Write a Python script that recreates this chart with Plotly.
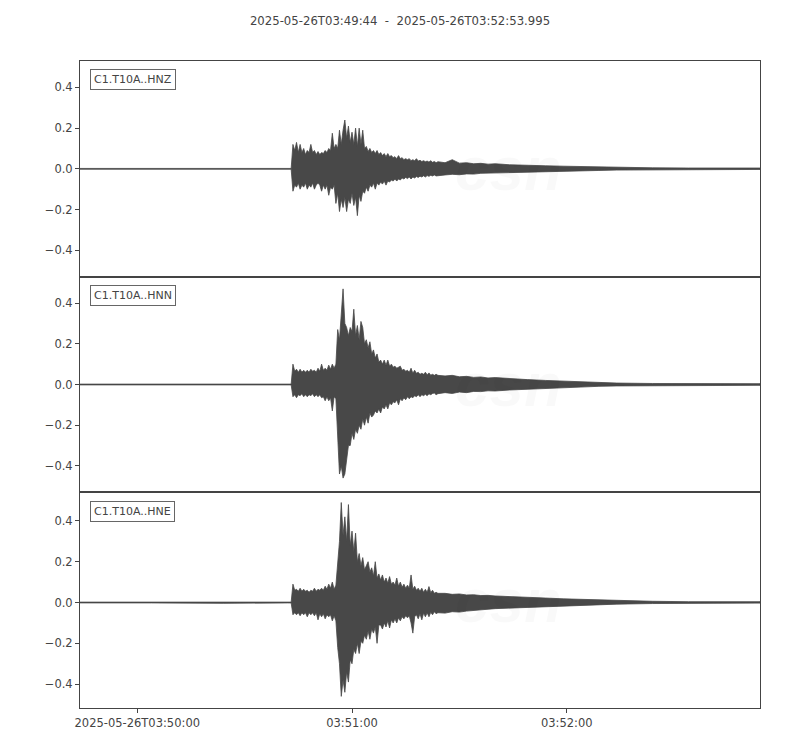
import plotly.graph_objects as go
from plotly.subplots import make_subplots
import pandas as pd

# record window
t_start = "2025-05-26T03:49:44"
t_end = "2025-05-26T03:52:53.995"

channels = ["C1.T10A..HNZ", "C1.T10A..HNN", "C1.T10A..HNE"]

t_sec = [0, 20, 40, 58,
         59, 59.5, 60, 60.5, 61, 61.5, 62, 62.5, 63, 63.5,
         64, 64.5, 65, 65.5, 66, 66.5, 67, 67.5, 68, 68.5,
         69, 69.5, 70, 70.5, 71, 71.5, 72, 72.5, 73, 73.5,
         74, 74.5, 75, 75.5, 76, 76.5, 77, 77.5, 78, 78.5,
         79, 79.5, 80, 80.5, 81, 81.5, 82, 82.5, 83, 83.5,
         84, 84.5, 85, 85.5, 86, 86.5, 87, 87.5, 88, 88.5,
         89, 89.5, 90, 90.5, 91, 91.5, 92, 92.5, 93, 93.5,
         94, 94.5, 95, 95.5, 96, 96.5, 97, 97.5, 98, 98.5,
         99, 99.5, 100,
         102, 104, 106, 108, 110, 112, 114, 116,
         120, 125, 130, 135, 140, 145, 150,
         160, 170, 180, 189.995]

# upper / lower envelope of each component
hnz_up = [0.002, 0.002, 0.003, 0.002,
          0.002, 0.12, 0.09, 0.13, 0.08, 0.12, 0.08, 0.10, 0.07, 0.09,
          0.08, 0.12, 0.08, 0.09, 0.07, 0.085, 0.07, 0.08, 0.075, 0.09,
          0.08, 0.10, 0.09, 0.175, 0.10, 0.12, 0.10, 0.19, 0.12, 0.19,
          0.24, 0.15, 0.21, 0.13, 0.18, 0.12, 0.20, 0.11, 0.20, 0.12,
          0.19, 0.10, 0.11, 0.085, 0.10, 0.08, 0.09, 0.075, 0.09, 0.07,
          0.08, 0.065, 0.075, 0.06, 0.075, 0.06, 0.065, 0.055, 0.06, 0.05,
          0.065, 0.05, 0.055, 0.045, 0.05, 0.045, 0.05, 0.04, 0.045, 0.04,
          0.05, 0.038, 0.042, 0.036, 0.04, 0.035, 0.038, 0.033, 0.04, 0.032,
          0.036, 0.03, 0.035,
          0.03, 0.045, 0.028, 0.03, 0.025, 0.027, 0.023, 0.025,
          0.02, 0.019, 0.015, 0.013, 0.011, 0.009, 0.007,
          0.005, 0.004, 0.004, 0.004]
hnz_lo = [-0.002, -0.002, -0.003, -0.002,
          -0.002, -0.11, -0.08, -0.09, -0.07, -0.10, -0.08, -0.09, -0.07, -0.10,
          -0.08, -0.09, -0.07, -0.10, -0.08, -0.07, -0.08, -0.11, -0.08, -0.10,
          -0.08, -0.13, -0.09, -0.10, -0.08, -0.17, -0.12, -0.21, -0.15, -0.19,
          -0.14, -0.21, -0.15, -0.17, -0.12, -0.18, -0.14, -0.23, -0.13, -0.16,
          -0.11, -0.12, -0.09, -0.11, -0.08, -0.09, -0.07, -0.10, -0.07, -0.08,
          -0.065, -0.075, -0.06, -0.08, -0.06, -0.065, -0.055, -0.06, -0.05, -0.06,
          -0.05, -0.055, -0.045, -0.05, -0.042, -0.048, -0.04, -0.05, -0.04, -0.045,
          -0.038, -0.042, -0.036, -0.04, -0.034, -0.04, -0.033, -0.037, -0.032, -0.035,
          -0.03, -0.035, -0.032,
          -0.03, -0.027, -0.029, -0.025, -0.026, -0.022, -0.024, -0.021,
          -0.019, -0.016, -0.014, -0.012, -0.01, -0.008, -0.006,
          -0.004, -0.004, -0.003, -0.003]

hnn_up = [0.002, 0.002, 0.002, 0.002,
          0.002, 0.10, 0.065, 0.075, 0.06, 0.075, 0.06, 0.07, 0.06, 0.07,
          0.06, 0.075, 0.065, 0.07, 0.06, 0.08, 0.065, 0.10, 0.07, 0.08,
          0.07, 0.095, 0.075, 0.10, 0.08, 0.10, 0.27, 0.22, 0.36, 0.47,
          0.30, 0.28, 0.24, 0.28, 0.26, 0.37, 0.24, 0.29, 0.22, 0.31,
          0.28, 0.20, 0.22, 0.18, 0.21, 0.15, 0.17, 0.13, 0.15, 0.11,
          0.12, 0.10, 0.12, 0.095, 0.12, 0.09, 0.10, 0.085, 0.09, 0.08,
          0.085, 0.09, 0.07, 0.075, 0.065, 0.07, 0.06, 0.08, 0.055, 0.07,
          0.055, 0.06, 0.05, 0.055, 0.05, 0.06, 0.048, 0.057, 0.046, 0.05,
          0.045, 0.05, 0.045,
          0.042, 0.045, 0.038, 0.04, 0.035, 0.037, 0.032, 0.034,
          0.028, 0.024, 0.02, 0.016, 0.013, 0.01, 0.007,
          0.005, 0.004, 0.004, 0.004]
hnn_lo = [-0.002, -0.002, -0.002, -0.002,
          -0.002, -0.06, -0.05, -0.065, -0.05, -0.055, -0.045, -0.06, -0.05, -0.06,
          -0.05, -0.055, -0.045, -0.06, -0.05, -0.06, -0.05, -0.065, -0.06, -0.08,
          -0.06, -0.08, -0.065, -0.13, -0.06, -0.07, -0.22, -0.44, -0.40, -0.46,
          -0.44, -0.37, -0.30, -0.30, -0.24, -0.27, -0.22, -0.24, -0.20, -0.22,
          -0.17, -0.20, -0.16, -0.19, -0.14, -0.16, -0.15, -0.13, -0.14, -0.12,
          -0.14, -0.11, -0.12, -0.10, -0.12, -0.09, -0.10, -0.085, -0.09, -0.075,
          -0.10, -0.07, -0.08, -0.065, -0.075, -0.06, -0.07, -0.06, -0.065, -0.055,
          -0.06, -0.05, -0.06, -0.05, -0.055, -0.048, -0.055, -0.046, -0.05, -0.044,
          -0.042, -0.05, -0.045,
          -0.04, -0.044, -0.037, -0.04, -0.034, -0.035, -0.031, -0.032,
          -0.027, -0.023, -0.019, -0.015, -0.012, -0.009, -0.007,
          -0.005, -0.004, -0.004, -0.004]

hne_up = [0.002, 0.002, 0.004, 0.002,
          0.002, 0.09, 0.06, 0.065, 0.055, 0.07, 0.055, 0.065, 0.055, 0.06,
          0.05, 0.06, 0.055, 0.07, 0.055, 0.065, 0.06, 0.07, 0.06, 0.08,
          0.065, 0.09, 0.07, 0.10, 0.065, 0.085, 0.19, 0.30, 0.49, 0.33,
          0.42, 0.30, 0.48, 0.28, 0.35, 0.25, 0.34, 0.20, 0.24, 0.18,
          0.22, 0.16, 0.18, 0.20, 0.15, 0.17, 0.13, 0.20, 0.12, 0.14,
          0.11, 0.135, 0.10, 0.12, 0.095, 0.127, 0.09, 0.10, 0.085, 0.12,
          0.08, 0.10, 0.075, 0.09, 0.07, 0.085, 0.07, 0.135, 0.065, 0.08,
          0.06, 0.07, 0.055, 0.07, 0.05, 0.065, 0.05, 0.078, 0.048, 0.06,
          0.045, 0.05, 0.045,
          0.045, 0.04, 0.042, 0.037, 0.038, 0.034, 0.035, 0.032,
          0.03, 0.026, 0.022, 0.018, 0.015, 0.012, 0.009,
          0.006, 0.004, 0.004, 0.004]
hne_lo = [-0.002, -0.002, -0.004, -0.002,
          -0.002, -0.06, -0.05, -0.06, -0.05, -0.065, -0.05, -0.06, -0.05, -0.07,
          -0.05, -0.06, -0.05, -0.065, -0.05, -0.085, -0.055, -0.07, -0.055, -0.08,
          -0.06, -0.07, -0.06, -0.09, -0.065, -0.09, -0.22, -0.30, -0.46, -0.38,
          -0.44, -0.34, -0.39, -0.28, -0.30, -0.23, -0.25, -0.20, -0.25, -0.19,
          -0.20, -0.16, -0.18, -0.14, -0.18, -0.13, -0.15, -0.12, -0.20, -0.11,
          -0.11, -0.13, -0.10, -0.12, -0.09, -0.125, -0.085, -0.10, -0.08, -0.10,
          -0.075, -0.09, -0.07, -0.08, -0.065, -0.075, -0.065, -0.10, -0.15, -0.07,
          -0.06, -0.08, -0.055, -0.085, -0.052, -0.07, -0.05, -0.07, -0.048, -0.06,
          -0.045, -0.055, -0.05,
          -0.052, -0.045, -0.047, -0.042, -0.04, -0.035, -0.033, -0.03,
          -0.027, -0.023, -0.019, -0.016, -0.013, -0.011, -0.008,
          -0.005, -0.004, -0.003, -0.003]

x_tickvals = ["2025-05-26T03:50:00", "2025-05-26T03:51:00", "2025-05-26T03:52:00"]
x_ticktext = ["2025-05-26T03:50:00", "03:51:00", "03:52:00"]
y_tickvals = [-0.4, -0.2, 0.0, 0.2, 0.4]
y_ranges = [[-0.53, 0.53], [-0.53, 0.53], [-0.517, 0.54]]

ink = "#484848"
axis_col = "#444444"
font = dict(family="DejaVu Sans", size=11.5, color=axis_col)
mark = "rgba(0,0,0,0.025)"

times = list(pd.Timestamp(t_start) + pd.to_timedelta(t_sec, unit="s"))

fig = make_subplots(rows=3, cols=1, shared_xaxes=True, vertical_spacing=0)

envelopes = [(hnz_up, hnz_lo), (hnn_up, hnn_lo), (hne_up, hne_lo)]
for i, (up, lo) in enumerate(envelopes):
    row = i + 1
    fig.add_trace(go.Scatter(
        x=times + times[::-1],
        y=up + lo[::-1],
        mode="lines",
        fill="toself",
        fillcolor=ink,
        line=dict(color=ink, width=0.8),
        showlegend=False,
        hoverinfo="skip",
    ), row=row, col=1)

    xa = "x domain" if row == 1 else f"x{row} domain"
    ya = "y domain" if row == 1 else f"y{row} domain"

    # faint CSN watermark (alpha so it disappears over the trace)
    fig.add_annotation(x=0.63, y=0.5, xref=xa, yref=ya, text="<b><i>csn</i></b>",
                       showarrow=False,
                       font=dict(family="Liberation Sans", size=62, color=mark))
    fig.add_annotation(x=0.665, y=0.255, xref=xa, yref=ya, xanchor="left",
                       text="<i>CENTRO SISMOLÓGICO NACIONAL</i>", showarrow=False,
                       font=dict(family="Liberation Sans", size=12, color=mark))
    fig.add_annotation(x=0.665, y=0.16, xref=xa, yref=ya, xanchor="left",
                       text="<i>UNIVERSIDAD DE CHILE</i>", showarrow=False,
                       font=dict(family="Liberation Sans", size=12, color=mark))

    # station label box
    fig.add_annotation(x=0.015, y=0.962, xref=xa, yref=ya, xanchor="left",
                       yanchor="top", text=channels[i], showarrow=False,
                       font=dict(family="DejaVu Sans", size=11, color=axis_col),
                       bgcolor="white", bordercolor="#666666",
                       borderwidth=1, borderpad=3)

    fig.update_yaxes(range=y_ranges[i], tickvals=y_tickvals, tickformat=".1f",
                     ticks="outside", ticklen=4, tickcolor=axis_col,
                     showline=True, mirror=True, linecolor=axis_col, linewidth=1,
                     showgrid=False, zeroline=False, tickfont=font, row=row, col=1)
    fig.update_xaxes(range=[t_start, t_end], showline=True, mirror=True,
                     linecolor=axis_col, linewidth=1, showgrid=False,
                     zeroline=False, row=row, col=1)
    if row < 3:
        fig.update_xaxes(showticklabels=False, ticks="", row=row, col=1)

fig.update_xaxes(tickvals=x_tickvals, ticktext=x_ticktext, ticks="outside",
                 ticklen=4, tickcolor=axis_col, tickfont=font, row=3, col=1)

# page body adds an 8px offset, so the figure is drawn 16px smaller
fig.update_layout(
    width=784, height=734,
    margin=dict(l=72, r=32, t=53, b=30),
    plot_bgcolor="white", paper_bgcolor="white",
    title=dict(text=f"{t_start}  -  {t_end}", xref="container", x=0.5,
               xanchor="center", y=0.9823, yanchor="middle",
               font=dict(family="DejaVu Sans", size=11.7, color=axis_col)),
)

fig.write_html("out.html")
